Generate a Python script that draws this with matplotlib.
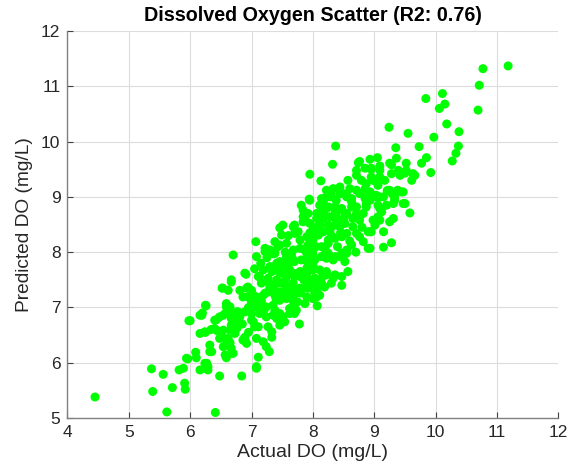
import matplotlib
matplotlib.use("Agg")
import matplotlib.pyplot as plt

plt.rcParams['font.family'] = ['Liberation Sans', 'DejaVu Sans']

title = "Dissolved Oxygen Scatter (R2: 0.76)"
x_label = "Actual DO (mg/L)"
y_label = "Predicted DO (mg/L)"
x_ticks = [4, 5, 6, 7, 8, 9, 10, 11, 12]
y_ticks = [5, 6, 7, 8, 9, 10, 11, 12]

points = [
    (4.45,5.38),(5.62,5.11),(6.41,5.10),(5.37,5.89),(5.39,5.48),(5.56,5.79),(5.71,5.55),(5.82,5.87),
    (5.91,5.63),(5.92,5.52),(5.96,6.07),(6.00,6.76),(6.09,6.19),(6.10,6.09),(6.16,5.87),(6.25,5.90),
    (6.25,7.04),(6.16,6.86),(6.20,6.90),(6.29,5.87),(6.27,5.99),(6.32,6.32),(6.32,6.20),(6.40,6.77),
    (6.16,6.53),(6.25,6.55),(6.34,6.60),(6.44,6.58),(6.48,5.76),(6.59,6.09),(6.67,7.46),(6.52,7.35),
    (6.84,5.76),(6.86,7.19),(6.89,6.46),(6.90,6.39),
    (6.70,7.95),(7.07,8.19),(7.23,8.05),(7.08,7.92),(6.91,7.60),(6.67,7.50),(6.53,7.35),(6.26,7.03),
    (6.19,6.86),(5.98,6.76),(6.43,6.78),(6.40,6.62),(6.24,6.56),(6.59,7.07),(6.62,6.95),(6.54,6.86),
    (6.67,6.80),(6.73,6.68),(6.81,6.83),(6.89,6.92),(7.00,6.77),(7.05,6.65),(6.51,6.50),(6.59,6.41),
    (6.65,6.29),(6.57,6.14),(6.67,6.17),(6.35,6.20),(5.94,6.08),(5.89,5.90),(6.24,5.99),(6.29,5.93),
    (6.92,6.35),(7.08,5.93),(7.27,6.65),(7.41,6.80),(7.38,6.95),(7.00,7.13),(7.08,7.01),(7.16,7.13),
    (7.22,7.26),(7.30,7.37),(7.38,7.22),(7.70,6.89),(7.13,7.56),(7.30,7.74),(7.41,7.80),(7.51,7.74),
    (7.62,7.68),(7.51,7.44),(7.41,7.50),(7.27,7.46),(7.30,8.04),(7.38,7.98),(7.46,8.13),(7.57,8.16),
    (7.92,8.13),(8.00,8.22),(8.09,8.31),(8.17,8.37),(8.25,8.22),(8.00,7.95),(7.90,7.89),(7.68,7.86),
    (7.57,7.86),(7.46,7.83),(7.51,8.49),(7.70,8.49),(7.76,8.37),(7.87,8.61),(7.92,8.70),(8.06,8.61),
    (8.17,8.70),(8.25,8.82),(8.36,8.76),(8.38,8.58),(8.30,8.46),(7.81,8.85),(7.95,8.94),(7.49,8.31),
    (7.38,8.19),(7.43,8.10),(7.36,7.97),
    (7.08,5.90),(7.11,6.10),(6.70,6.17),(6.67,6.26),(6.65,6.36),(6.76,6.62),(6.73,6.53),(6.65,6.59),
    (6.67,6.68),(6.78,6.74),(6.70,6.83),(6.65,7.01),(6.76,6.92),(7.00,6.89),(7.03,6.74),(7.11,6.65),
    (7.08,6.44),(7.19,6.38),(7.24,6.29),(7.29,6.20),(7.33,6.56),(7.33,6.46),(7.46,6.68),(7.51,6.83),
    (7.62,6.89),(7.73,6.95),(7.78,6.70),(7.54,6.74),(7.87,7.07),(8.00,7.16),(8.07,7.03),(7.68,7.13),
    (7.57,7.16),(7.46,7.13),(7.35,7.04),(7.24,7.01),(7.16,7.07),(7.05,7.07),(6.94,7.19),(6.89,7.62),
    (6.92,7.35),(7.22,8.01),(7.19,7.68),(7.11,7.56),(7.16,7.44),(7.27,7.53),(7.33,7.65),(7.43,7.71),
    (7.60,7.65),(7.70,7.56),(7.79,7.65),(7.90,7.71),(8.00,7.77),(8.11,7.68),(8.22,7.59),(8.36,7.59),
    (8.47,7.40),(8.30,7.44),(8.14,7.44),(8.09,7.37),(8.03,7.26),(7.92,7.35),(7.81,7.31),(7.70,7.31),
    (7.60,7.28),(7.49,7.28),(7.38,7.31),(7.27,7.28),(7.19,7.22),(7.08,7.19),(7.00,7.31),(8.06,7.19),
    (8.11,7.22),(7.68,7.04),(7.62,6.98),(7.46,6.89),(7.35,6.86),(7.24,6.83),(7.13,6.89),(8.03,7.53),
    (8.44,7.92),(8.55,7.98),(8.22,7.89),(8.33,7.86),(6.62,7.31),(6.81,7.31),(6.94,7.37),(7.03,7.22),
    (7.00,7.10),(6.78,6.92),(6.67,6.89),(6.57,6.89),(6.48,6.83),(6.59,7.01),(6.76,6.71),(6.62,6.44),
    (6.54,6.59),(6.86,6.41),(6.48,6.44),(6.54,6.29),
    (7.46,8.44),(7.68,8.46),(7.70,8.34),(7.84,8.76),(7.79,8.22),(7.90,8.28),(8.00,8.40),(8.11,8.46),
    (8.28,8.40),(8.44,8.46),(8.55,8.34),(8.65,8.46),(8.71,8.34),(8.76,8.28),(8.82,8.19),(8.63,8.13),
    (8.55,8.04),(8.90,8.07),(8.95,8.37),(9.09,8.58),(9.01,8.49),(7.57,7.92),(7.68,8.04),(7.79,8.07),
    (7.90,7.98),(8.00,8.04),(8.14,8.10),(8.25,8.16),(8.36,8.25),(8.47,8.28),(7.46,7.80),(7.60,7.74),
    (7.70,7.83),(7.81,7.86),(7.92,7.80),(8.03,7.86),(8.14,7.92),(8.25,7.98),(8.36,7.92),(8.47,7.98),
    (8.52,7.83),(8.57,7.65),(8.47,7.56),(7.46,7.62),(7.57,7.56),(7.68,7.62),(7.79,7.56),(7.90,7.62),
    (8.00,7.68),(8.22,7.65),(8.33,7.56),(7.46,7.44),(7.57,7.37),(7.68,7.44),(7.79,7.35),(7.90,7.44),
    (8.03,7.40),(8.19,7.37),(8.33,7.53),(7.46,7.26),(7.57,7.19),(7.68,7.22),(7.79,7.26),(7.90,7.19),
    (8.37,9.92),(8.32,9.59),(7.95,9.41),(8.13,9.29),(7.94,8.96),(8.74,9.62),(8.93,9.68),(9.05,9.71),
    (9.09,9.56),(8.95,9.50),(8.71,9.48),(8.57,9.30),(8.71,9.12),(8.87,9.24),(9.01,9.30),(8.79,9.06),
    (9.09,9.00),(9.50,8.88),(9.33,8.94),(9.20,8.85),(9.09,8.79),(9.06,8.64),(8.93,8.94),(8.87,8.82),
    (8.98,8.58),(8.71,8.70),(8.22,9.12),(8.33,9.15),(8.44,9.18),(8.49,9.06),(8.55,9.00),(8.38,8.94),
    (8.28,9.00),(8.17,8.94),(8.11,8.85),(8.22,8.79),(8.36,8.82),(8.47,8.79),(8.52,8.67),(8.38,8.64),
    (8.28,8.64),(8.17,8.61),(8.11,8.52),(8.25,8.49),(8.38,8.49),(8.52,8.52),(8.63,8.82),(8.63,8.97),
    (7.84,8.64),(7.95,8.52),(8.06,8.70),
    (8.76,9.64),(8.85,9.52),(8.71,9.39),(8.79,9.30),(8.95,9.36),(9.09,9.48),(9.25,9.61),(9.36,9.70),
    (9.63,9.42),(9.52,9.48),(9.39,9.48),(9.28,9.42),(9.17,9.30),(9.06,9.21),(9.22,9.12),(9.44,9.09),
    (8.90,8.37),(8.76,8.58),(8.82,8.70),(8.71,8.82),(8.63,8.91),(8.44,9.06),(8.22,9.00),(8.17,8.88),
    (8.41,8.76),(8.55,8.70),(8.65,8.61),(8.85,8.97),(8.93,9.09),(9.04,9.00),
    (8.14,8.97),(8.30,9.03),(8.57,9.00),(8.76,9.06),(8.87,8.88),(8.17,8.76),(7.84,8.55),(7.22,8.07),
    (11.18,11.37),(10.77,11.32),(10.71,11.02),(10.69,10.57),(10.11,10.87),(10.15,10.68),(10.06,10.60),
    (9.84,10.78),(10.18,10.32),(10.38,10.18),(10.37,9.92),(10.33,9.79),(10.27,9.65),(9.97,10.08),
    (9.73,9.91),(9.55,10.15),(9.24,10.26),(9.35,9.89),(9.85,9.71),(9.77,9.61),(9.92,9.44),(9.66,9.39),
    (9.61,9.30),(9.38,9.12),(9.21,9.11),(9.29,9.06),(9.03,9.03),
    (9.50,9.43),(9.52,9.61),(9.28,9.58),(9.42,9.39),(8.95,9.52),(8.98,9.30),(9.09,9.36),(9.25,9.12),
    (9.47,9.09),(9.33,9.00),(9.47,8.88),(9.31,8.88),(9.58,8.71),(9.06,8.85),(9.12,8.73),(9.04,8.58),
    (9.31,8.61),(9.25,8.55),(9.15,8.37),(9.28,8.17),(9.15,8.09),(8.93,8.37),(8.93,8.07),
    (7.15,7.80),(7.05,7.70),(7.25,7.90),(7.55,8.00),(7.65,7.95),(7.85,8.05),(8.05,8.10),(8.20,8.05),
    (8.40,8.10),(8.60,8.20),(8.70,8.00),(8.80,8.45),(8.50,8.60),(8.30,8.30),(7.95,7.50),(8.15,7.55),
    (7.85,7.50),(7.55,7.50),(7.35,7.40),(7.40,7.15),(7.75,7.10),(7.20,6.95),(6.95,7.00),(6.85,6.70),
    (6.95,6.55),(8.60,9.15),(8.85,9.15),(9.15,9.00),(8.05,8.45),(7.60,8.30),(7.95,8.35),(8.45,8.35),
]
actual_do = [p[0] for p in points]
predicted_do = [p[1] for p in points]

fig = plt.figure(figsize=(5.71, 4.71), dpi=100)
ax = fig.add_axes([0.118, 0.1125, 0.860, 0.8215])

ax.scatter(actual_do, predicted_do, s=42, c='#00FF00', edgecolors='none', zorder=3)

ax.set_xlim(4, 12)
ax.set_ylim(5, 12)
ax.set_xticks(x_ticks)
ax.set_yticks(y_ticks)
ax.grid(True, color='#dcdcdc', linewidth=0.8, zorder=0)
ax.set_axisbelow(True)
for side in ['top', 'right']:
    ax.spines[side].set_visible(False)
for side in ['left', 'bottom']:
    ax.spines[side].set_color('#808080')
    ax.spines[side].set_linewidth(1.0)
ax.tick_params(direction='in', length=4, color='#404040', labelsize=12.5, labelcolor='#262626', pad=5)
ax.set_xlabel(x_label, fontsize=14, color='#262626', labelpad=3)
ax.set_ylabel(y_label, fontsize=13.8, color='#262626', labelpad=6)
ax.set_title(title, fontsize=14.2, fontweight='bold', color='black', pad=7)

fig.savefig('out.png', dpi=100)
